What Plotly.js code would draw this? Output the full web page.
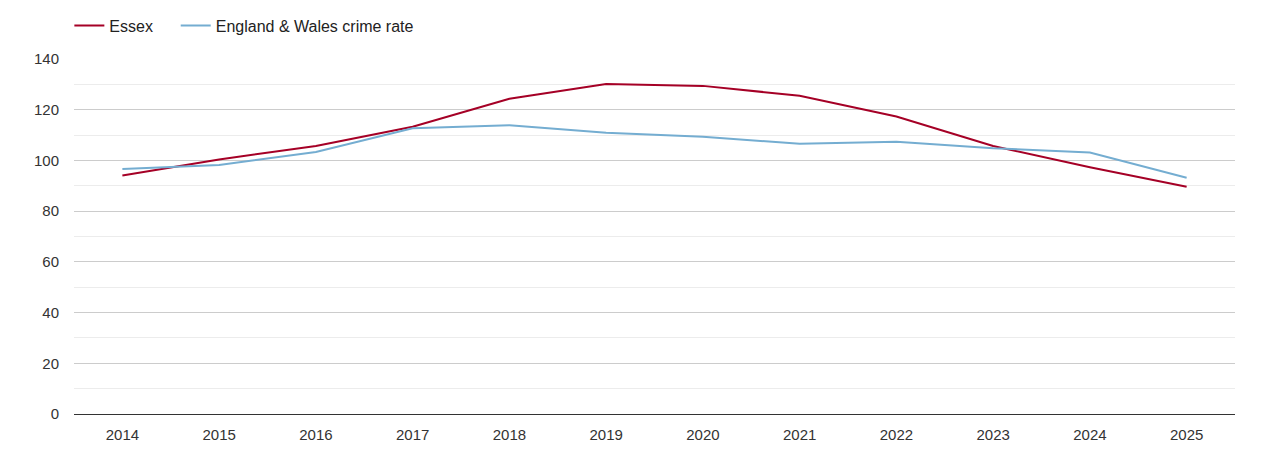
<!DOCTYPE html>
<html>
  <head>
    <meta charset="utf-8" />
    <title>Essex crime rate</title>
    <script src="https://cdn.plot.ly/plotly-3.0.1.min.js"></script>
    <style>
      body { margin: 0; padding: 0; background: white; }
      #graphDiv { width: 1270px; height: 450px; }
    </style>
  </head>
  <body>
    <div id="graphDiv"></div>
    <script>
      const years = ["2014", "2015", "2016", "2017", "2018", "2019", "2020", "2021", "2022", "2023", "2024", "2025"];
      const essex = [94.1, 100.4, 105.7, 113.3, 124.3, 130.1, 129.4, 125.5, 117.3, 105.7, 97.3, 89.6];
      const englandWales = [96.6, 98.2, 103.3, 112.7, 113.9, 110.9, 109.3, 106.6, 107.4, 104.8, 103.1, 93.2];

      const traces = [
        {
          x: years,
          y: essex,
          name: "Essex\u00a0\u00a0\u00a0\u00a0",
          mode: "lines",
          line: { color: "#a50026", width: 2 },
        },
        {
          x: years,
          y: englandWales,
          name: "England & Wales crime rate",
          mode: "lines",
          line: { color: "#74add1", width: 2 },
        },
      ];

      const layout = {
        width: 1270,
        height: 450,
        margin: { l: 74, r: 35, t: 59, b: 36, autoexpand: false },
        paper_bgcolor: "white",
        plot_bgcolor: "white",
        font: { family: "Liberation Sans, Arial, sans-serif", size: 15, color: "#333" },
        showlegend: true,
        legend: {
          orientation: "h",
          x: -0.004,
          xanchor: "left",
          y: 1.094,
          yanchor: "middle",
          font: { size: 16, color: "#222" },
        },
        xaxis: {
          type: "category",
          range: [-0.5, 11.5],
          showgrid: false,
          zeroline: false,
          showline: false,
          ticks: "",
          ticklabelstandoff: 10,
          automargin: false,
          tickfont: { size: 15, color: "#333" },
        },
        yaxis: {
          range: [0, 140],
          dtick: 20,
          showgrid: true,
          gridcolor: "#cccccc",
          gridwidth: 1,
          minor: { dtick: 10, showgrid: true, gridcolor: "#ececec", gridwidth: 1 },
          zeroline: true,
          zerolinecolor: "#333",
          zerolinewidth: 1,
          ticks: "",
          ticklabelstandoff: 14,
          automargin: false,
          tickfont: { size: 15, color: "#333" },
        },
      };

      Plotly.newPlot("graphDiv", traces, layout, { displayModeBar: false, staticPlot: true });
    </script>
  </body>
</html>
